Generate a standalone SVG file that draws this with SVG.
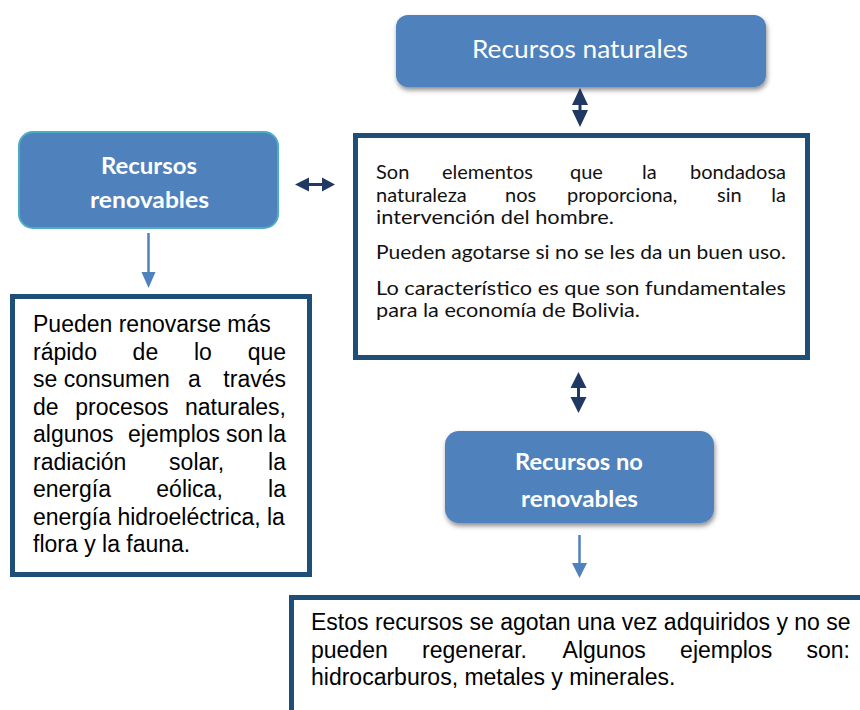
<svg xmlns="http://www.w3.org/2000/svg" width="860" height="710" viewBox="0 0 860 710">
<defs>
<filter id="sh" x="-10%" y="-20%" width="120%" height="150%">
<feDropShadow dx="1" dy="3" stdDeviation="2.5" flood-color="#000" flood-opacity="0.45"/>
</filter>
</defs>
<style>
.blue{fill:#4F81BD;}
.tbox{fill:#fff;stroke:#1F4E79;stroke-width:5;}
.hd{font-family:Lato,"Open Sans",sans-serif;fill:#fff;text-anchor:middle;}
.hb{font-weight:bold;font-size:22px;}
.cal{font-family:Lato,"Open Sans",sans-serif;font-size:20px;fill:#111;}
.ar{font-family:"Liberation Sans",Arial,sans-serif;font-size:23px;fill:#000;}
.end{text-anchor:end;}
.dbl{fill:#1F3864;}
.bl{stroke:#4F81BD;stroke-width:2.5;fill:none;}
.blh{fill:#4F81BD;}
</style>
<rect width="860" height="710" fill="#fff"/>

<g id="connectors">
<polygon class="dbl" points="580,88 588,105 581.5,105 581.5,110 588,110 580,127 572,110 578.5,110 578.5,105 572,105"/>
<polygon class="dbl" points="578.5,372 586.5,388 580,388 580,397 586.5,397 578.5,413 570.5,397 577,397 577,388 570.5,388"/>
<polygon class="dbl" points="295,184.5 309,177.5 309,183 322,183 322,177.5 335,184.5 322,191.5 322,186 309,186 309,191.5"/>
<line class="bl" x1="148.5" y1="233" x2="148.5" y2="274"/>
<polygon class="blh" points="141.5,272 155.5,272 148.5,288"/>
<line class="bl" x1="579.5" y1="535" x2="579.5" y2="565"/>
<polygon class="blh" points="572,563 587,563 579.5,578"/>
</g>

<g id="recursos-naturales">
<rect class="blue" x="396" y="15" width="370" height="72" rx="12" filter="url(#sh)"/>
<text class="hd" x="580" y="58" font-size="25" textLength="216" lengthAdjust="spacingAndGlyphs">Recursos naturales</text>
</g>

<g id="recursos-renovables">
<rect class="blue" x="19" y="132" width="259" height="96" rx="14" stroke="#4BACC6" stroke-width="2"/>
<text class="hd hb" x="149" y="174" textLength="96" lengthAdjust="spacingAndGlyphs">Recursos</text>
<text class="hd hb" x="149.5" y="208" textLength="119" lengthAdjust="spacingAndGlyphs">renovables</text>
</g>

<g id="definicion">
<rect class="tbox" x="355.5" y="135.5" width="452" height="222"/>
<text class="cal" y="179"><tspan x="376">Son</tspan><tspan x="442">elementos</tspan><tspan x="570">que</tspan><tspan x="642">la</tspan><tspan class="end" x="786">bondadosa</tspan></text>
<text class="cal" y="201.5"><tspan x="376">naturaleza</tspan><tspan x="505">nos</tspan><tspan x="567">proporciona,</tspan><tspan x="717">sin</tspan><tspan class="end" x="786">la</tspan></text>
<text class="cal" x="376" y="224" textLength="238" lengthAdjust="spacingAndGlyphs">intervención del hombre.</text>
<text class="cal" x="376" y="259" textLength="410" lengthAdjust="spacingAndGlyphs">Pueden agotarse si no se les da un buen uso.</text>
<text class="cal" x="376" y="294.5" textLength="410" lengthAdjust="spacingAndGlyphs">Lo característico es que son fundamentales</text>
<text class="cal" x="376" y="317" textLength="264" lengthAdjust="spacingAndGlyphs">para la economía de Bolivia.</text>
</g>

<g id="texto-renovables">
<rect class="tbox" x="12.5" y="296.5" width="297" height="278"/>
<text class="ar" x="33" y="332">Pueden renovarse más</text>
<text class="ar" y="359.5"><tspan x="33">rápido</tspan><tspan x="132.6">de</tspan><tspan x="193.9">lo</tspan><tspan class="end" x="286">que</tspan></text>
<text class="ar" y="387"><tspan x="33">se consumen</tspan><tspan x="188">a</tspan><tspan class="end" x="286">través</tspan></text>
<text class="ar" y="414.5"><tspan x="33">de</tspan><tspan x="75.2">procesos</tspan><tspan class="end" x="286">naturales,</tspan></text>
<text class="ar" y="442"><tspan x="33">algunos</tspan><tspan x="128">ejemplos</tspan><tspan x="226">son</tspan><tspan class="end" x="286">la</tspan></text>
<text class="ar" y="469.5"><tspan x="33">radiación</tspan><tspan x="169.1">solar,</tspan><tspan class="end" x="286">la</tspan></text>
<text class="ar" y="497"><tspan x="33">energía</tspan><tspan x="156.3">eólica,</tspan><tspan class="end" x="286">la</tspan></text>
<text class="ar" x="33" y="524.5">energía hidroeléctrica, la</text>
<text class="ar" x="33" y="552">flora y la fauna.</text>
</g>

<g id="recursos-no-renovables">
<rect class="blue" x="445" y="431" width="269" height="92" rx="14" filter="url(#sh)"/>
<text class="hd hb" x="579" y="470" textLength="128" lengthAdjust="spacingAndGlyphs">Recursos no</text>
<text class="hd hb" x="579.5" y="507" textLength="117" lengthAdjust="spacingAndGlyphs">renovables</text>
</g>

<g id="texto-no-renovables">
<rect class="tbox" x="291.5" y="597.5" width="600" height="200"/>
<text class="ar" x="311" y="630">Estos recursos se agotan una vez adquiridos y no se</text>
<text class="ar" y="657.5"><tspan x="311">pueden</tspan><tspan x="422.1">regenerar.</tspan><tspan x="562.6">Algunos</tspan><tspan x="680.1">ejemplos</tspan><tspan class="end" x="850">son:</tspan></text>
<text class="ar" x="311" y="685">hidrocarburos, metales y minerales.</text>
</g>
</svg>
